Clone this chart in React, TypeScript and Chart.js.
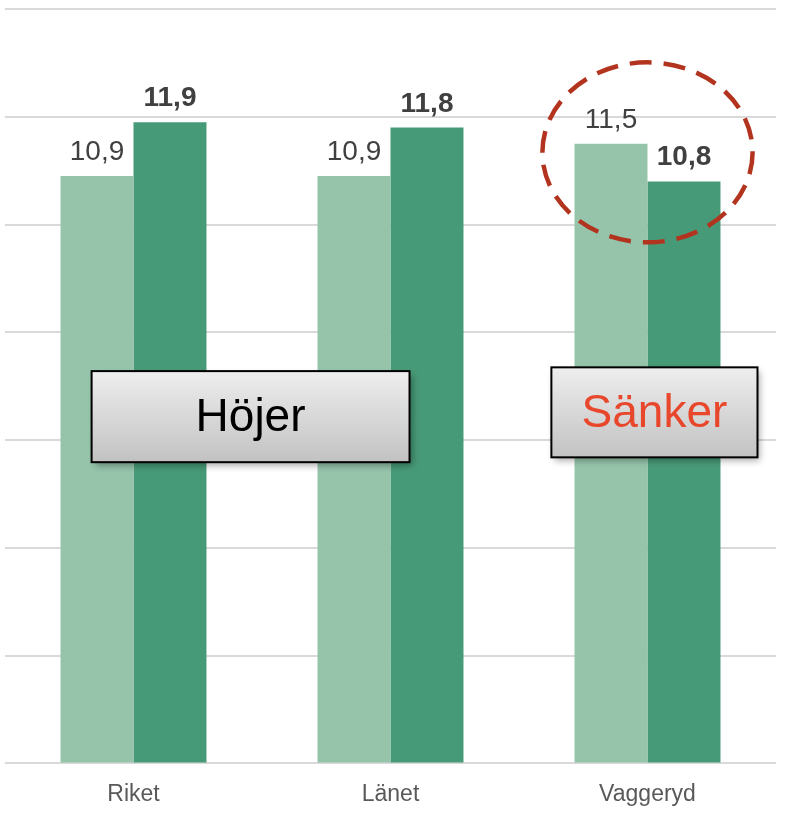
import React, { useEffect, useRef } from "react";
import { Chart, registerables } from "chart.js";

Chart.register(...registerables);

const categories = ["Riket", "Länet", "Vaggeryd"];
const seriesBefore = [10.9, 10.9, 11.5];
const seriesAfter = [11.9, 11.8, 10.8];
const yTicksMin = 0;
const yTicksMax = 14;
const yTickStep = 2;

const annotationBoxes = [
  { text: "Höjer", color: "#000000", x0: -0.163, x1: 1.074, y0: 7.28, y1: 5.59 },
  { text: "Sänker", color: "#e8472b", x0: 1.626, x1: 2.428, y0: 7.35, y1: 5.68 },
];
const highlightEllipse = { cx: 2.0, cy: 11.34, rxCat: 0.409, ryVal: 1.67 };

const FONT = "'Liberation Sans', Arial, sans-serif";

const fmt = (v: number) => v.toFixed(1).replace(".", ",");

const labelsPlugin = {
  id: "valueLabels",
  afterDatasetsDraw(chart: any) {
    const ctx = chart.ctx;
    chart.data.datasets.forEach((ds: any, di: number) => {
      const meta = chart.getDatasetMeta(di);
      meta.data.forEach((el: any, i: number) => {
        ctx.save();
        ctx.font = `${di === 1 ? "bold " : ""}28px ${FONT}`;
        ctx.fillStyle = "#404040";
        ctx.textAlign = "center";
        ctx.textBaseline = "alphabetic";
        ctx.fillText(fmt(ds.data[i]), el.x, el.y - 16);
        ctx.restore();
      });
    });
  },
};

const annotationPlugin = {
  id: "annotations",
  afterDraw(chart: any) {
    const ctx = chart.ctx;
    const xs = chart.scales.x;
    const ys = chart.scales.y;
    const catW = xs.getPixelForValue(1) - xs.getPixelForValue(0);
    const xPix = (c: number) => xs.getPixelForValue(0) + c * catW;

    annotationBoxes.forEach((b) => {
      const left = xPix(b.x0);
      const right = xPix(b.x1);
      const top = ys.getPixelForValue(b.y0);
      const bottom = ys.getPixelForValue(b.y1);
      const w = right - left;
      const h = bottom - top;
      ctx.save();
      const g = ctx.createLinearGradient(0, top, 0, bottom);
      g.addColorStop(0, "#eeeeee");
      g.addColorStop(1, "#c2c2c2");
      ctx.shadowColor = "rgba(0,0,0,0.35)";
      ctx.shadowBlur = 7;
      ctx.shadowOffsetX = 3;
      ctx.shadowOffsetY = 4;
      ctx.fillStyle = g;
      ctx.fillRect(left, top, w, h);
      ctx.shadowColor = "transparent";
      ctx.lineWidth = 2;
      ctx.strokeStyle = "#000000";
      ctx.strokeRect(left, top, w, h);
      ctx.font = `46px ${FONT}`;
      ctx.fillStyle = b.color;
      ctx.textAlign = "center";
      ctx.textBaseline = "middle";
      ctx.fillText(b.text, left + w / 2, top + h / 2 + 2);
      ctx.restore();
    });

    const e = highlightEllipse;
    const cx = xPix(e.cx);
    const cy = ys.getPixelForValue(e.cy);
    const rx = e.rxCat * catW;
    const ry = Math.abs(ys.getPixelForValue(e.cy + e.ryVal) - cy);
    ctx.save();
    ctx.beginPath();
    ctx.ellipse(cx, cy, rx, ry, 0, 0, Math.PI * 2);
    ctx.setLineDash([22, 12]);
    ctx.lineWidth = 4.5;
    ctx.strokeStyle = "#b3341e";
    ctx.stroke();
    ctx.restore();
  },
};

export default function App() {
  const ref = useRef<HTMLCanvasElement | null>(null);
  useEffect(() => {
    if (!ref.current) return;
    const chart = new Chart(ref.current, {
      type: "bar",
      data: {
        labels: categories,
        datasets: [
          {
            label: "Före",
            data: seriesBefore,
            backgroundColor: "#95c4ab",
            categoryPercentage: 0.568,
            barPercentage: 1,
          },
          {
            label: "Efter",
            data: seriesAfter,
            backgroundColor: "#479a77",
            categoryPercentage: 0.568,
            barPercentage: 1,
          },
        ],
      },
      options: {
        responsive: false,
        animation: false,
        layout: { padding: { left: 5, right: 18, top: 9, bottom: 0 } },
        plugins: {
          legend: { display: false },
          tooltip: { enabled: false },
          title: { display: false },
        },
        scales: {
          x: {
            grid: { display: false },
            border: { display: false },
            ticks: {
              color: "#595959",
              font: { family: FONT, size: 23 },
              padding: 9,
            },
          },
          y: {
            min: yTicksMin,
            max: yTicksMax,
            ticks: { display: false, stepSize: yTickStep },
            grid: { color: "#d9d9d9", lineWidth: 2, drawTicks: false },
            border: { display: false },
          },
        },
      },
      plugins: [labelsPlugin, annotationPlugin],
    });
    return () => chart.destroy();
  }, []);
  return (
    <div style={{ position: "absolute", left: 0, top: 0, width: 794, height: 816, overflow: "hidden", background: "#ffffff" }}>
      <canvas ref={ref} width={794} height={817} style={{ display: "block" }} />
    </div>
  );
}
